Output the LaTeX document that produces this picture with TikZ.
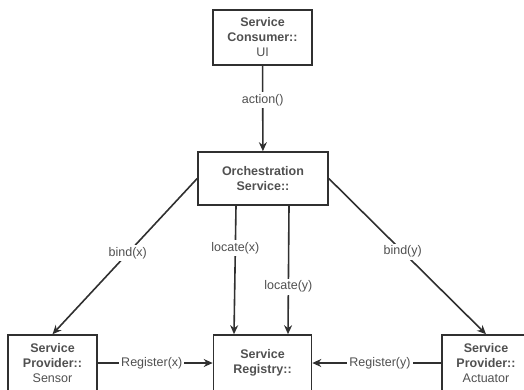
\documentclass[tikz,border=0pt]{standalone}
\usepackage{fontspec}
\setmainfont{Liberation Sans}
\usepackage[dvipsnames]{xcolor}
\usetikzlibrary{arrows.meta}
\definecolor{boxgray}{HTML}{303030}
\definecolor{txtgray}{HTML}{505050}

\begin{document}
\begin{tikzpicture}[x=1pt,y=-1pt,->,>={Stealth[length=9pt,width=8pt]},line width=1.6pt,color=boxgray,
    main node/.style={rectangle,draw=boxgray,text=txtgray,align=center,inner sep=0pt,minimum height=56pt,font=\fontsize{12.5}{15}\selectfont},
    call label/.style={fill=white,text=txtgray,inner sep=2pt,font=\fontsize{12.5}{15}\selectfont}]
            \useasboundingbox (0,0) rectangle (524,389);
            \node[main node,minimum width=99pt,minimum height=55pt] (consumer) at (262.5,37.5) {\textbf{Service}\\\textbf{Consumer::}\\UI};
            \node[main node,minimum width=130pt,minimum height=53pt] (orch) at (263,178.5) {\textbf{Orchestration}\\\textbf{Service::}};
            \node[main node,minimum width=89pt] (sensor) at (52.5,363) {\textbf{Service}\\\textbf{Provider::}\\Sensor};
            \node[main node,minimum width=98pt] (registry) at (262.5,363) {\textbf{Service}\\\textbf{Registry::}};
            \node[main node,minimum width=88pt] (actuator) at (486,363) {\textbf{Service}\\\textbf{Provider::}\\Actuator};

            \path[every node/.style={call label}]
            (consumer) edge node[pos=0.4] {action()} (orch)

            (orch.west) edge node[pos=0.48] {bind(x)} (sensor.north)
            (orch.east) edge node[pos=0.47] {bind(y)} (actuator.north)

            ([xshift=-27pt]orch.south) edge node[pos=0.33] {locate(x)} ([xshift=-28.5pt]registry.north)
            ([xshift=26pt]orch.south) edge node[pos=0.63] {locate(y)} ([xshift=25.5pt]registry.north)

            (sensor) edge node[pos=0.47] {Register(x)} (registry)
            (actuator) edge node[pos=0.475] {Register(y)} (registry)
            ;
        \end{tikzpicture}
\end{document}
